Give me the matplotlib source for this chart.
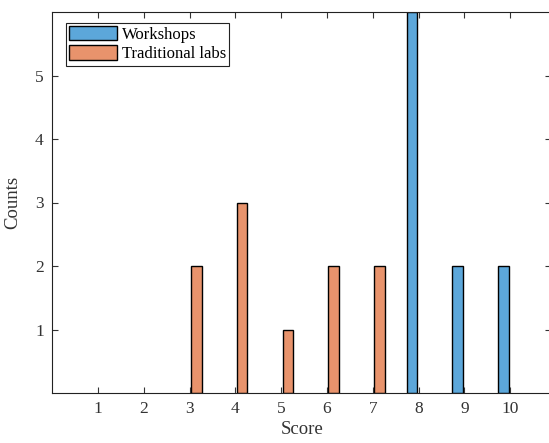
import matplotlib
matplotlib.use("Agg")
import matplotlib.pyplot as plt
from matplotlib.patches import Patch
import numpy as np

scores = [1, 2, 3, 4, 5, 6, 7, 8, 9, 10]
workshops = [0, 0, 0, 0, 0, 0, 0, 6, 2, 2]
traditional = [0, 0, 2, 3, 1, 2, 2, 0, 0, 0]
series_labels = ["Workshops", "Traditional labs"]
y_ticks = [1, 2, 3, 4, 5]

plt.rcParams['font.family'] = ['Liberation Serif', 'DejaVu Serif']

fig = plt.figure(figsize=(5.49, 4.43), dpi=100)
unit = 45.8
x_right = 10.9
ax = fig.add_axes([52.2/549, 50/443, x_right*unit/549, 381/443])

x = np.array(scores, dtype=float)
off = 0.145
w = 0.23
blue = '#5CA7DA'
orange = '#E8936C'
lw_w = [1.0 if v > 0 else 0 for v in workshops]
lw_t = [1.0 if v > 0 else 0 for v in traditional]
ax.bar(x - off, workshops, width=w, color=blue, edgecolor='black', linewidth=lw_w)
ax.bar(x + off, traditional, width=w, color=orange, edgecolor='black', linewidth=lw_t)

ax.set_xlim(0, x_right)
ax.set_ylim(0, 6)
ax.set_xticks(scores)
ax.set_yticks(y_ticks)
ax.tick_params(direction='in', length=4, width=0.8, labelsize=12.5, colors='#333333',
               top=True, right=True, pad=6)
for s in ax.spines.values():
    s.set_linewidth(0.8)
    s.set_color('#222222')
ax.spines['right'].set_visible(False)

ax.set_xlabel("Score", fontsize=13.5, labelpad=3, color='#333333')
ax.set_ylabel("Counts", fontsize=13.5, labelpad=10, color='#333333')

handles = [Patch(facecolor=blue, edgecolor='black', linewidth=1.0),
           Patch(facecolor=orange, edgecolor='black', linewidth=1.0)]
leg = ax.legend(handles, series_labels, loc='upper left', bbox_to_anchor=(0.027, 0.972),
                fontsize=12, handlelength=2.9, handleheight=0.95, handletextpad=0.25,
                borderpad=0.2, labelspacing=0.15, fancybox=False, framealpha=1,
                edgecolor='#222222', borderaxespad=0)
leg.get_frame().set_linewidth(0.8)

fig.savefig("out.png", dpi=100)
